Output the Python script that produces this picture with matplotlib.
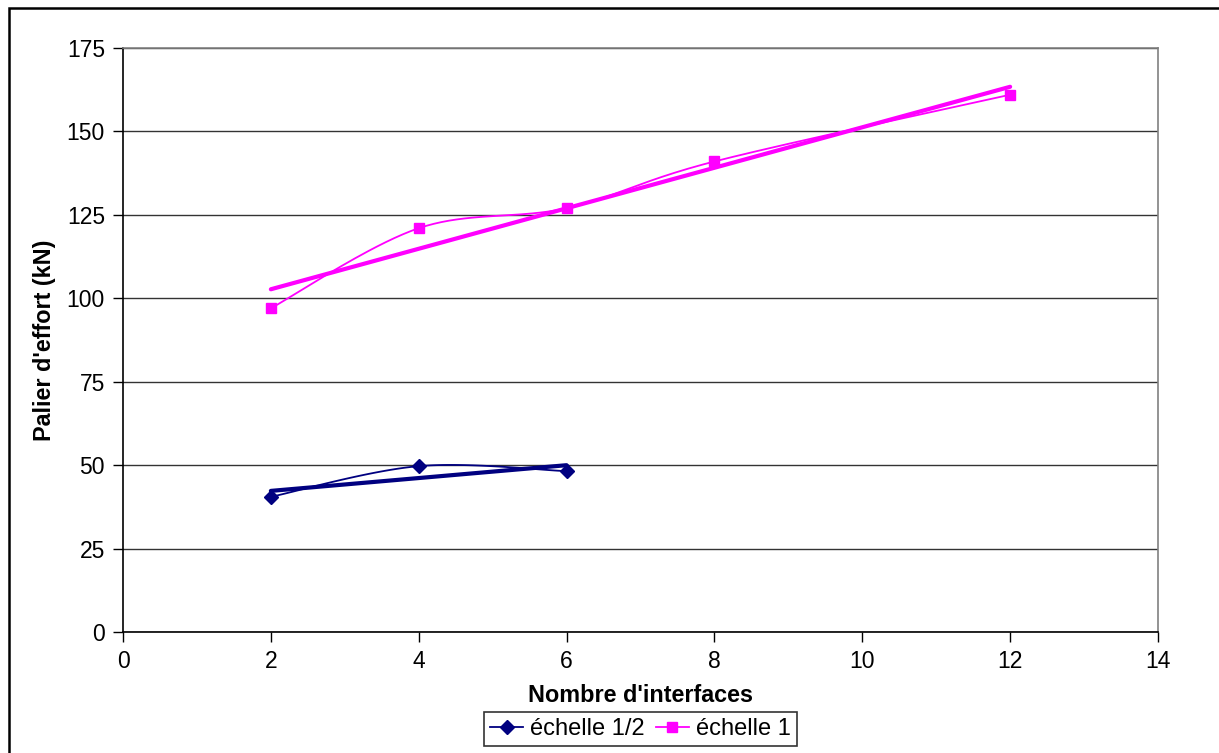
import matplotlib
matplotlib.use('Agg')
import matplotlib.pyplot as plt
import numpy as np
from matplotlib.patches import Rectangle

plt.rcParams['font.family'] = ['Liberation Sans', 'DejaVu Sans']

# data
X_DEMI = [2, 4, 6]
Y_DEMI = [40.5, 49.7, 48.2]
X_UN = [2, 4, 6, 8, 12]
Y_UN = [97, 121, 127, 141, 161]

LABEL_DEMI = 'échelle 1/2'
LABEL_UN = 'échelle 1'
XTICKS = [0, 2, 4, 6, 8, 10, 12, 14]
YTICKS = [0, 25, 50, 75, 100, 125, 150, 175]

NAVY = '#000080'
PINK = '#FF00FF'


def smooth(xs, ys, n=40):
    # Catmull-Rom style bezier, like Excel's smoothed line
    xs = np.asarray(xs, float)
    ys = np.asarray(ys, float)
    pts = np.column_stack([xs, ys])
    out = []
    for i in range(len(pts) - 1):
        p0 = pts[i - 1] if i > 0 else pts[i]
        p1 = pts[i]
        p2 = pts[i + 1]
        p3 = pts[i + 2] if i + 2 < len(pts) else pts[i + 1]
        c1 = p1 + (p2 - p0) / 6
        c2 = p2 - (p3 - p1) / 6
        t = np.linspace(0, 1, n)[:, None]
        seg = ((1 - t) ** 3) * p1 + 3 * ((1 - t) ** 2) * t * c1 \
            + 3 * (1 - t) * t ** 2 * c2 + t ** 3 * p2
        out.append(seg if i == 0 else seg[1:])
    seg = np.vstack(out)
    return seg[:, 0], seg[:, 1]


fig = plt.figure(figsize=(12.19, 7.53), dpi=100)
ax = fig.add_axes([123 / 1219, 1 - 632 / 753, (1158 - 123) / 1219, (632 - 48) / 753])

# outer chart frame
fig.patches.append(Rectangle((9 / 1219, -0.1), 1.2, 1 - 8 / 753 + 0.1,
                             transform=fig.transFigure, fill=False,
                             edgecolor='black', linewidth=1.8, zorder=0))

for xs, ys, color, marker, ms, label in [
        (X_DEMI, Y_DEMI, NAVY, 'D', 7, LABEL_DEMI),
        (X_UN, Y_UN, PINK, 's', 7, LABEL_UN)]:
    sx, sy = smooth(xs, ys)
    ax.plot(sx, sy, color=color, linewidth=1.3, zorder=3)
    ax.plot(xs, ys, linestyle='none', marker=marker, markersize=ms,
            color=color, zorder=4)
    ax.plot([], [], color=color, linewidth=1.3, marker=marker,
            markersize=ms, label=label)
    a, b = np.polyfit(xs, ys, 1)
    ax.plot([xs[0], xs[-1]], [a * xs[0] + b, a * xs[-1] + b],
            color=color, linewidth=3, solid_capstyle='round', zorder=3)

ax.set_xlim(0, 14)
ax.set_ylim(0, 175)
ax.set_xticks(XTICKS)
ax.set_yticks(YTICKS)
ax.tick_params(labelsize=16.5, length=7, direction='out', width=1, pad=6)
ax.yaxis.grid(True, color='#333333', linewidth=1)
ax.set_axisbelow(True)

ax.spines['left'].set_color('black')
ax.spines['bottom'].set_color('black')
ax.spines['right'].set_color('#808080')
ax.spines['top'].set_color('#808080')
for s in ax.spines.values():
    s.set_linewidth(1.2)

ax.set_xlabel("Nombre d'interfaces", fontsize=16.8, fontweight='bold', labelpad=8)
ax.set_ylabel("Palier d'effort (kN)", fontsize=16.8, fontweight='bold', labelpad=8)

leg = ax.legend(loc='upper center', bbox_to_anchor=(0.5, -0.137), ncol=2,
                fontsize=17, frameon=True, fancybox=False, edgecolor='black',
                handlelength=1.4, handletextpad=0.3, columnspacing=0.45,
                borderpad=0.25, borderaxespad=0)
leg.get_frame().set_linewidth(1.2)

plt.savefig('out.png', dpi=100)
